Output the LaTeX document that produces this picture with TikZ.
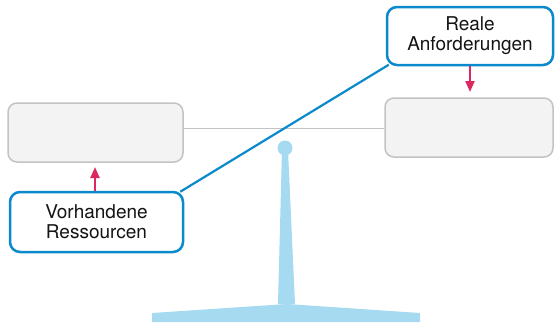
\documentclass[tikz,border=0pt]{standalone}
\usepackage{fontspec}
\setmainfont{TeX Gyre Heros}
\usetikzlibrary{calc,arrows.meta}
\definecolor{bluebox}{RGB}{10,138,205}
\definecolor{standblue}{RGB}{165,218,240}
\definecolor{pinkarrow}{RGB}{220,40,95}
\definecolor{grayline}{RGB}{195,195,195}
\definecolor{grayfill}{RGB}{243,243,243}
\definecolor{textcol}{RGB}{20,20,20}
\tikzset{
  x=1pt,y=1pt,
  graybox/.style={draw=grayline,fill=grayfill,line width=1.5pt,rounded corners=9pt,inner sep=0pt},
  labelbox/.style={draw=bluebox,fill=white,line width=2.5pt,rounded corners=10pt,inner sep=0pt,
    align=center,text=textcol,font=\fontsize{19}{20}\selectfont},
  pinkarr/.style={draw=pinkarrow,line width=2.2pt,-{Triangle[length=11pt,width=9pt]}},
}
\begin{document}
\begin{tikzpicture}
\useasboundingbox (0,0) rectangle (555,325);
% stand
\fill[standblue] (152,3) -- (152,12) -- (287,21) -- (420,12) -- (420,3) -- cycle;
\fill[standblue] (282,175) -- (288,175) -- (295,21) -- (278,21) -- cycle;
\node[circle,fill=standblue,minimum size=15pt,inner sep=0pt] (pivot) at (285,177) {};
% beam boxes
\node[graybox,minimum width=175pt,minimum height=59pt] (lg) at (95.5,192.5) {};
\node[graybox,minimum width=168pt,minimum height=59pt] (rg) at (469,197.5) {};
\coordinate (beam) at (0,196.5);
\draw[grayline,line width=1.2pt] (lg.east |- beam) -- (rg.west |- beam);
% label boxes
\node[labelbox,minimum width=173pt,minimum height=60pt] (lb) at (96.5,103) {Vorhandene\\Ressourcen};
\node[labelbox,minimum width=166pt,minimum height=58pt] (rb) at (470,289) {Reale\\Anforderungen};
\draw[bluebox,line width=2.2pt] ($(lb.north east)+(-4,-1)$) -- ($(rb.south west)+(3,1.5)$);
% arrows
\coordinate (la) at (95,158);
\coordinate (ra) at (470,233);
\draw[pinkarr] (lb.north -| la) -- (la);
\draw[pinkarr] (rb.south -| ra) -- (ra);
\end{tikzpicture}
\end{document}
